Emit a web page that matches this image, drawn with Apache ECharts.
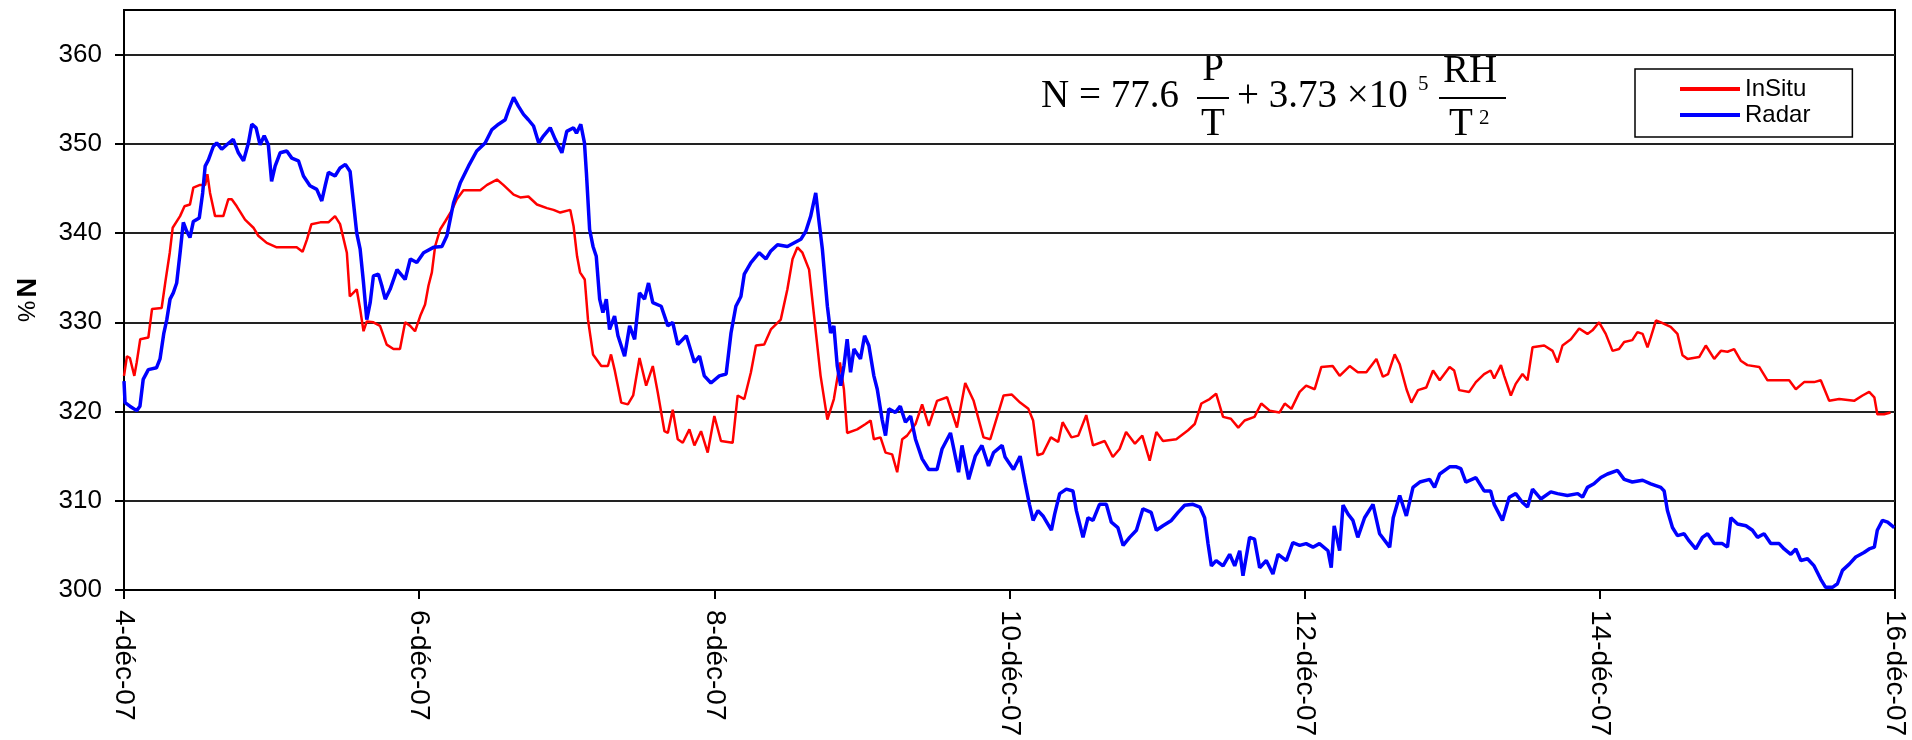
<!DOCTYPE html>
<html>
<head>
<meta charset="utf-8">
<script src="https://cdn.jsdelivr.net/npm/echarts@6/dist/echarts.min.js"></script>
<style>
html,body{margin:0;padding:0;background:#fff;}
#chart{width:1912px;height:740px;}
</style>
</head>
<body>
<div id="chart"></div>
<script>
// x = days since 4-déc-07 00:00, y = refractivity N
const seriesNames = ['InSitu', 'Radar'];
const xTickLabels = ['4-déc-07', '6-déc-07', '8-déc-07', '10-déc-07', '12-déc-07', '14-déc-07', '16-déc-07'];
const yTickValues = [300, 310, 320, 330, 340, 350, 360];

const insitu = [
[0,324.0],[0.02,326.2],[0.04,326],[0.07,324],[0.086,325.5],[0.11,328.1],[0.165,328.3],[0.19,331.5],[0.255,331.6],[0.28,334.5],[0.31,337.8],[0.33,340.6],[0.38,341.9],[0.41,343.0],[0.447,343.2],[0.47,345.1],[0.515,345.4],[0.55,345.4],[0.565,346.6],[0.583,344.5],[0.617,341.9],[0.673,341.9],[0.707,343.8],[0.73,343.8],[0.764,343],[0.82,341.5],[0.877,340.6],[0.91,339.7],[0.967,338.9],[1.035,338.4],[1.17,338.4],[1.21,337.9],[1.24,339.3],[1.27,341],[1.33,341.2],[1.385,341.2],[1.43,341.9],[1.464,341],[1.51,337.8],[1.53,332.9],[1.577,333.7],[1.6,331.5],[1.623,329],[1.645,330.1],[1.69,330],[1.735,329.6],[1.78,327.5],[1.826,327],[1.87,327],[1.905,330],[1.939,329.6],[1.972,329],[2.007,330.7],[2.04,332],[2.063,334.1],[2.086,335.6],[2.108,338.5],[2.142,340.4],[2.176,341.3],[2.22,342.5],[2.255,343.8],[2.3,344.8],[2.414,344.8],[2.46,345.4],[2.527,346],[2.57,345.4],[2.64,344.3],[2.685,344],[2.74,344.1],[2.798,343.2],[2.866,342.8],[2.91,342.6],[2.956,342.3],[3.024,342.6],[3.046,340.8],[3.07,337.4],[3.09,335.6],
[3.122,334.8],[3.144,330.3],[3.178,326.4],[3.234,325.1],[3.279,325.1],[3.3,326.4],[3.324,324.7],[3.369,321],[3.414,320.8],[3.45,321.8],[3.493,326],[3.538,322.9],[3.583,325.1],[3.617,322.1],[3.662,317.8],[3.685,317.6],[3.718,320.2],[3.752,316.9],[3.786,316.5],[3.831,318],[3.865,316.2],[3.91,317.8],[3.955,315.4],[4.0,319.5],[4.045,316.7],[4.124,316.5],[4.158,321.8],[4.203,321.4],[4.248,324.4],[4.282,327.4],[4.338,327.5],[4.383,329.2],[4.45,330.3],[4.495,333.7],[4.53,337.1],[4.563,338.4],[4.597,337.8],[4.642,335.9],[4.676,330.7],[4.72,324],[4.766,319.1],[4.81,321.4],[4.851,325.5],[4.878,322.5],[4.9,317.6],[4.968,318],[5.025,318.6],[5.059,319],[5.081,316.9],[5.126,317.1],[5.16,315.4],[5.205,315.2],[5.239,313.2],[5.273,316.9],[5.306,317.3],[5.363,318.6],[5.408,320.8],[5.453,318.4],[5.509,321.2],[5.577,321.6],[5.644,318.2],[5.7,323.2],[5.757,321.2],[5.824,317.1],[5.87,316.9],[5.96,321.8],[6.016,321.9],[6.072,321],[6.128,320.3],
[6.16,319],[6.19,315.1],[6.226,315.3],[6.28,317.1],[6.33,316.6],[6.36,318.8],[6.42,317.1],[6.466,317.3],[6.52,319.6],[6.566,316.2],[6.645,316.7],[6.7,314.9],[6.746,315.8],[6.79,317.7],[6.85,316.4],[6.9,317.3],[6.95,314.5],[6.995,317.7],[7.04,316.7],[7.13,316.9],[7.21,317.9],[7.255,318.6],[7.3,320.9],[7.356,321.4],[7.4,322],[7.447,319.4],[7.5,319.2],[7.55,318.2],[7.593,319],[7.66,319.4],[7.706,320.9],[7.763,320.1],[7.83,319.9],[7.865,320.9],[7.91,320.3],[7.966,322.2],[8.01,322.9],[8.068,322.5],[8.113,325],[8.19,325.1],[8.237,324],[8.305,325.1],[8.36,324.4],[8.418,324.4],[8.486,325.9],[8.53,323.9],[8.565,324.2],[8.61,326.4],[8.644,325.3],[8.69,322.5],[8.723,321],[8.768,322.4],[8.824,322.7],[8.87,324.6],[8.915,323.5],[8.982,325],
[9.013,324.6],[9.047,322.4],[9.115,322.2],[9.16,323.3],[9.216,324.2],[9.26,324.6],[9.284,323.7],[9.33,325.2],[9.352,324],[9.397,321.8],[9.43,323.1],[9.476,324.2],[9.51,323.5],[9.544,327.2],[9.623,327.4],[9.68,326.8],[9.713,325.5],[9.747,327.4],[9.804,328.1],[9.86,329.3],[9.916,328.7],[9.95,329.1],[9.995,330],[10.04,328.7],[10.086,326.8],[10.13,327],[10.165,327.8],[10.22,328],[10.255,328.9],[10.29,328.7],[10.323,327.2],[10.345,328.3],[10.38,330.2],[10.414,330],[10.48,329.5],[10.526,328.7],[10.56,326.3],[10.594,325.9],[10.673,326.1],[10.718,327.4],[10.775,325.9],[10.82,326.8],[10.865,326.7],[10.91,327],[10.955,325.7],[11.0,325.2],[11.08,325],[11.136,323.5],[11.283,323.5],[11.328,322.5],[11.384,323.3],[11.452,323.3],[11.497,323.5],[11.554,321.2],[11.622,321.4],[11.723,321.2],[11.78,321.8],[11.825,322.2],[11.86,321.6],[11.88,319.7],[11.926,319.7],[11.97,319.9]
];

const radar = [
[0,323.4],[0.007,321],[0.04,320.6],[0.086,320.1],[0.108,320.6],[0.13,323.6],[0.165,324.7],[0.22,324.9],[0.244,325.9],[0.27,328.8],[0.29,330.3],[0.312,332.6],[0.334,333.3],[0.357,334.4],[0.38,337.8],[0.402,341.2],[0.425,340.2],[0.447,339.5],[0.47,341.3],[0.51,341.7],[0.533,344.5],[0.55,347.5],[0.572,348.2],[0.605,349.7],[0.628,350.1],[0.662,349.4],[0.696,349.9],[0.74,350.5],[0.775,349],[0.81,348.1],[0.843,350.1],[0.866,352.2],[0.895,351.8],[0.922,349.9],[0.95,350.9],[0.978,349.9],[1.0,345.8],[1.024,347.5],[1.058,349],[1.103,349.2],[1.137,348.4],[1.182,348.1],[1.216,346.4],[1.26,345.3],[1.306,344.9],[1.34,343.6],[1.363,345.3],[1.385,346.8],[1.43,346.4],[1.464,347.3],[1.5,347.7],[1.532,346.9],[1.555,343.4],[1.577,340],[1.6,338.2],[1.623,334.4],[1.645,330.3],[1.668,332.2],[1.69,335.2],[1.724,335.4],[1.747,334.1],[1.77,332.6],[1.803,333.7],[1.85,335.9],[1.905,334.8],[1.94,337.1],[1.984,336.7],[2.03,337.8],[2.097,338.4],[2.154,338.5],[2.188,339.7],[2.21,341.5],[2.233,343.4],[2.278,345.6],[2.334,347.5],[2.39,349.2],[2.447,350.1],[2.493,351.6],[2.538,352.2],[2.583,352.7],[2.606,353.8],[2.64,355.2],[2.673,354.2],[2.707,353.3],[2.74,352.7],[2.775,352],[2.81,350.1],[2.843,350.9],[2.888,351.8],[2.922,350.5],[2.967,349],[3.0,351.4],[3.046,351.8],[3.066,351.2],[3.095,352.2],[3.12,350.1],[3.133,346.8],[3.155,340.4],[3.178,338.5],[3.2,337.4],[3.223,332.6],[3.245,331.1],[3.268,332.6],[3.29,329.2],[3.324,330.7],[3.347,328.5],[3.392,326.2],[3.426,329.6],[3.46,328.1],[3.493,333.3],[3.527,332.6],[3.554,334.4],[3.583,332.2],[3.64,331.8],[3.685,329.6],[3.718,330],[3.752,327.5],[3.81,328.5],[3.865,325.5],[3.9,326.2],[3.932,324],[3.977,323.2],[4.034,324],[4.08,324.2],[4.113,328.8],[4.146,331.8],[4.18,332.9],[4.203,335.4],[4.248,336.7],[4.304,337.8],[4.35,337.1],[4.383,338],[4.428,338.7],[4.495,338.5],[4.586,339.3],[4.62,340.2],[4.653,341.9],[4.687,344.5],[4.71,341.2],[4.732,338.2],[4.766,331.8],[4.788,328.8],[4.81,329.6],[4.833,325.1],[4.856,322.9],[4.878,325.1],[4.9,328.1],[4.923,324.4],[4.946,327],[4.99,325.9],[5.018,328.5],[5.047,327.4],[5.081,324],[5.104,322.5],[5.137,319.1],[5.16,317.3],[5.182,320.3],[5.227,319.9],[5.26,320.6],[5.295,318.8],[5.33,319.5],[5.363,316.9],[5.408,314.7],[5.453,313.5],[5.509,313.5],[5.543,315.8],[5.6,317.6],[5.655,313.2],[5.678,316.2],[5.723,312.4],[5.768,315],[5.813,316.2],[5.858,313.9],[5.892,315.4],[5.95,316.2],[5.97,314.9],[6.027,313.5],[6.072,315],
[6.106,312],[6.135,309.6],[6.16,307.8],[6.193,308.9],[6.227,308.3],[6.284,306.7],[6.306,308.5],[6.34,310.8],[6.385,311.3],[6.43,311.1],[6.453,308.9],[6.498,305.9],[6.532,308.1],[6.566,307.8],[6.61,309.6],[6.656,309.6],[6.69,307.6],[6.734,307],[6.77,305],[6.814,305.9],[6.86,306.7],[6.904,309.1],[6.96,308.7],[6.995,306.7],[7.04,307.2],[7.097,307.8],[7.142,308.7],[7.187,309.5],[7.243,309.6],[7.29,309.3],[7.322,308.1],[7.345,305.2],[7.368,302.7],[7.4,303.3],[7.447,302.7],[7.492,304],[7.526,302.7],[7.56,304.4],[7.582,301.6],[7.627,305.9],[7.66,305.7],[7.695,302.5],[7.74,303.3],[7.785,301.8],[7.82,304],[7.876,303.3],[7.92,305.3],[7.966,305],[8.01,305.2],[8.056,304.8],[8.1,305.2],[8.158,304.4],[8.18,302.5],[8.2,307.2],[8.237,304.4],[8.26,309.5],[8.294,308.5],[8.327,307.8],[8.36,305.9],[8.406,308.1],[8.463,309.6],[8.508,306.3],[8.576,304.8],[8.6,308.1],[8.644,310.6],[8.689,308.3],[8.734,311.5],[8.78,312.1],[8.847,312.4],[8.88,311.5],[8.915,313],[8.982,313.8],
[9.028,313.8],[9.058,313.6],[9.092,312.1],[9.16,312.6],[9.216,311.1],[9.26,311.1],[9.284,309.6],[9.34,307.8],[9.386,310.4],[9.43,310.8],[9.476,309.8],[9.51,309.3],[9.544,311.3],[9.6,310.2],[9.668,311],[9.713,310.8],[9.78,310.6],[9.85,310.8],[9.883,310.4],[9.916,311.5],[9.96,311.9],[10.007,312.6],[10.052,313],[10.12,313.4],[10.165,312.4],[10.22,312.1],[10.29,312.3],[10.345,311.9],[10.413,311.5],[10.436,311.1],[10.458,308.9],[10.492,307],[10.526,306.1],[10.571,306.3],[10.605,305.5],[10.65,304.6],[10.695,305.9],[10.73,306.3],[10.775,305.2],[10.83,305.2],[10.865,304.8],[10.888,308.1],[10.933,307.4],[10.99,307.2],[11.034,306.7],[11.068,305.9],[11.113,306.3],[11.158,305.2],[11.215,305.2],[11.249,304.6],[11.294,304],[11.328,304.6],[11.362,303.3],[11.407,303.5],[11.452,302.7],[11.497,301.2],[11.53,300.3],[11.576,300.3],[11.61,300.7],[11.644,302.2],[11.69,302.9],[11.734,303.7],[11.79,304.2],[11.825,304.6],[11.86,304.8],[11.88,306.7],[11.915,307.8],[11.95,307.6],[11.995,307]
];

const chart = echarts.init(document.getElementById('chart'), null, {renderer: 'canvas'});
const sans = '"Liberation Sans", Arial, sans-serif';
const serif = '"Liberation Serif", "Times New Roman", serif';
const fSize = 39;

chart.setOption({
  animation: false,
  backgroundColor: '#fff',
  grid: {left: 124, right: 17, top: 10, bottom: 150, outerBoundsMode: 'none', containLabel: false,
         show: true, borderColor: '#000', borderWidth: 2, backgroundColor: 'transparent'},
  legend: {
    orient: 'vertical', left: 1635, top: 69,
    data: seriesNames.map(n => ({name: n, icon: 'rect'})),
    borderColor: '#000', borderWidth: 1.5,
    padding: [8, 42, 10, 45],
    itemWidth: 60, itemHeight: 4, itemGap: 2,
    textStyle: {fontFamily: sans, fontSize: 24, color: '#000', lineHeight: 24}
  },
  xAxis: {
    type: 'value', min: 0, max: 12, interval: 2,
    axisLine: {lineStyle: {color: '#000', width: 2}},
    axisTick: {show: true, length: 9, lineStyle: {color: '#000', width: 2}},
    splitLine: {show: false},
    axisLabel: {
      rotate: -90, margin: 20, color: '#000', fontFamily: sans, fontSize: 28,
      formatter: v => xTickLabels[Math.round(v / 2)] || ''
    }
  },
  yAxis: {
    type: 'value', min: 300, max: 365, interval: 10,
    name: '{n|N} {p|%}', nameLocation: 'middle', nameRotate: -90, nameGap: 86,
    nameTextStyle: {rich: {n: {fontFamily: sans, fontSize: 27, fontWeight: 'bold', color: '#000'}, p: {fontFamily: sans, fontSize: 24, color: '#000'}}},
    axisLine: {show: true, lineStyle: {color: '#000', width: 2}},
    axisTick: {show: true, length: 9, lineStyle: {color: '#000', width: 2}, customValues: yTickValues},
    splitLine: {show: true, lineStyle: {color: '#222', width: 2}},
    axisLabel: {
      margin: 22, color: '#000', fontFamily: sans, fontSize: 26, customValues: yTickValues,
      formatter: v => (v % 10 === 0 ? String(v) : '')
    }
  },
  series: [
    {name: seriesNames[0], type: 'line', data: insitu, symbol: 'none', showSymbol: false,
     lineStyle: {color: '#ff0000', width: 2.5}, itemStyle: {color: '#ff0000'}},
    {name: seriesNames[1], type: 'line', data: radar, symbol: 'none', showSymbol: false,
     lineStyle: {color: '#0000ff', width: 3.5}, itemStyle: {color: '#0000ff'}}
  ],
  graphic: [
    {type: 'text', x: 1041, y: 97, style: {text: 'N = 77.6', font: fSize + 'px ' + serif, fill: '#000', align: 'left', verticalAlign: 'middle'}},
    {type: 'text', x: 1213, y: 70, style: {text: 'P', font: fSize + 'px ' + serif, fill: '#000', align: 'center', verticalAlign: 'middle'}},
    {type: 'line', shape: {x1: 1197, y1: 98, x2: 1229, y2: 98}, style: {stroke: '#000', lineWidth: 2}},
    {type: 'text', x: 1213, y: 125, style: {text: 'T', font: fSize + 'px ' + serif, fill: '#000', align: 'center', verticalAlign: 'middle'}},
    {type: 'text', x: 1237, y: 97, style: {text: '+ 3.73 \u00d710', font: fSize + 'px ' + serif, fill: '#000', align: 'left', verticalAlign: 'middle'}},
    {type: 'text', x: 1418, y: 84, style: {text: '5', font: '21px ' + serif, fill: '#000', align: 'left', verticalAlign: 'middle'}},
    {type: 'line', shape: {x1: 1439, y1: 98, x2: 1506, y2: 98}, style: {stroke: '#000', lineWidth: 2}},
    {type: 'text', x: 1470, y: 72, style: {text: 'RH', font: fSize + 'px ' + serif, fill: '#000', align: 'center', verticalAlign: 'middle'}},
    {type: 'text', x: 1461, y: 125, style: {text: 'T', font: fSize + 'px ' + serif, fill: '#000', align: 'center', verticalAlign: 'middle'}},
    {type: 'text', x: 1479, y: 118, style: {text: '2', font: '21px ' + serif, fill: '#000', align: 'left', verticalAlign: 'middle'}}
  ]
});
</script>
</body>
</html>
